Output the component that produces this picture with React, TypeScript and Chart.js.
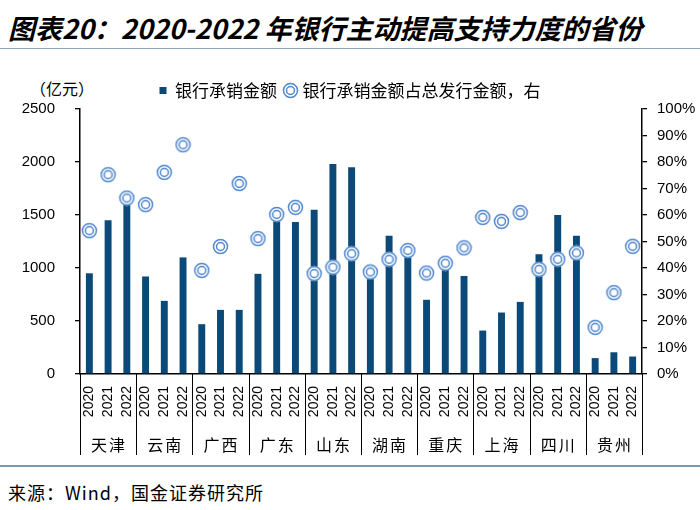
import { useEffect, useRef } from 'react';
import { Chart, registerables } from 'chart.js';

Chart.register(...registerables);

const TITLE = '图表20：2020-2022 年银行主动提高支持力度的省份';
const SOURCE = '来源：Wind，国金证券研究所';
const UNIT = '（亿元）';
const YEARS = ['2020', '2021', '2022'];
const PROVINCES = ['天津', '云南', '广西', '广东', '山东', '湖南', '重庆', '上海', '四川', '贵州'];
const SERIES_BAR = '银行承销金额';
const SERIES_PCT = '银行承销金额占总发行金额，右';
// 银行承销金额（亿元）, by province then year
const AMOUNTS = [
  950, 1450, 1600,
  920, 690, 1100,
  470, 605, 605,
  945, 1490, 1435,
  1550, 1980, 1950,
  940, 1305, 1160,
  700, 1010, 925,
  410, 580, 680,
  1130, 1500, 1305,
  150, 205, 165,
];
// 占总发行金额（%）
const SHARES = [
  54.1, 75.2, 66.4,
  63.9, 76.1, 86.5,
  39.1, 48.1, 71.9,
  51.1, 60.2, 62.9,
  37.9, 40.3, 45.4,
  38.5, 43.3, 46.6,
  38.1, 41.8, 47.6,
  59.1, 57.6, 60.9,
  39.5, 43.3, 45.7,
  17.6, 30.7, 48.2,
];
const LEFT_MAX = 2500;
const LEFT_STEP = 500;
const RIGHT_MAX = 100;
const RIGHT_STEP = 10;

const BAR_COLOR = '#0b4a78';
const RING_COLOR = '#4f86cc';

function makeRing(): HTMLCanvasElement {
  const c = document.createElement('canvas');
  c.width = 17;
  c.height = 17;
  const g = c.getContext('2d')!;
  g.fillStyle = '#ffffff';
  g.beginPath();
  g.arc(8.5, 8.5, 7.8, 0, Math.PI * 2);
  g.fill();
  g.strokeStyle = RING_COLOR;
  g.lineWidth = 1.5;
  g.beginPath();
  g.arc(8.5, 8.5, 7, 0, Math.PI * 2);
  g.stroke();
  g.beginPath();
  g.arc(8.5, 8.5, 4, 0, Math.PI * 2);
  g.stroke();
  return c;
}

const groupPlugin = {
  id: 'groupPlugin',
  afterDraw(chart: any) {
    const x = chart.scales.x;
    const area = chart.chartArea;
    const ctx = chart.ctx as CanvasRenderingContext2D;
    const step = x.getPixelForValue(1) - x.getPixelForValue(0);
    const n = YEARS.length;
    ctx.save();
    ctx.strokeStyle = '#000';
    ctx.lineWidth = 1;
    for (let g = 0; g <= PROVINCES.length; g++) {
      const px = Math.round(x.getPixelForValue(g * n) - step / 2) + 0.5;
      ctx.beginPath();
      ctx.moveTo(px, area.bottom);
      ctx.lineTo(px, area.bottom + 81);
      ctx.stroke();
    }
    ctx.fillStyle = '#000';
    ctx.font = '16px "Noto Sans CJK SC"';
    ctx.textAlign = 'center';
    ctx.textBaseline = 'middle';
    (ctx as any).letterSpacing = '2px';
    PROVINCES.forEach((p, g) => {
      const cx = x.getPixelForValue(g * n + (n - 1) / 2);
      ctx.fillText(p, cx + 1, area.bottom + 71);
    });
    ctx.restore();
  },
};

export default function App() {
  const ref = useRef<HTMLCanvasElement>(null);

  useEffect(() => {
    if (!ref.current) return;
    const ring = makeRing();
    const labels = PROVINCES.flatMap(() => YEARS);
    const tickFont = { family: '"Liberation Sans", Arial', size: 15 };
    const chart = new Chart(ref.current, {
      type: 'bar',
      data: {
        labels,
        datasets: [
          {
            type: 'bar',
            label: SERIES_BAR,
            data: AMOUNTS,
            backgroundColor: BAR_COLOR,
            borderWidth: 0,
            barPercentage: 0.37,
            categoryPercentage: 1,
            yAxisID: 'y',
            order: 1,
            pointStyle: 'rect',
          } as any,
          {
            type: 'line',
            label: SERIES_PCT,
            data: SHARES,
            yAxisID: 'y1',
            showLine: false,
            pointStyle: ring,
            pointRadius: 8,
            backgroundColor: '#fff',
            borderColor: RING_COLOR,
            order: 0,
          } as any,
        ],
      },
      options: {
        animation: false,
        responsive: false,
        layout: { padding: 0 },
        plugins: {
          tooltip: { enabled: false },
          legend: {
            position: 'top',
            align: 'center',
            labels: {
              usePointStyle: true,
              boxWidth: 7,
              boxHeight: 7,
              padding: 10,
              color: '#000',
              font: { family: '"Noto Sans CJK SC"', size: 17 },
              sort: (a: any, b: any) => a.datasetIndex - b.datasetIndex,
            },
          },
        },
        scales: {
          x: {
            type: 'category',
            offset: true,
            grid: { drawOnChartArea: false, drawTicks: false },
            border: { display: true, color: '#000', width: 1.5 },
            ticks: {
              autoSkip: false,
              maxRotation: 90,
              minRotation: 90,
              padding: 12,
              color: '#000',
              font: { family: '"Liberation Sans", Arial', size: 14 },
            },
            afterFit: (s: any) => {
              s.height = 86;
            },
          },
          y: {
            position: 'left',
            min: 0,
            max: LEFT_MAX,
            ticks: {
              stepSize: LEFT_STEP,
              padding: 20,
              color: '#000',
              font: tickFont,
              callback: (v: any) => String(v),
            },
            grid: { drawOnChartArea: false, drawTicks: true, tickLength: 5, color: '#000', lineWidth: 1.3 },
            border: { display: true, color: '#000', width: 1.5 },
            afterFit: (s: any) => {
              s.width = 80;
            },
          },
          y1: {
            position: 'right',
            min: 0,
            max: RIGHT_MAX,
            ticks: {
              stepSize: RIGHT_STEP,
              padding: 10,
              color: '#000',
              font: tickFont,
              callback: (v: any) => `${v}%`,
            },
            grid: { drawOnChartArea: false, drawTicks: true, tickLength: 5, color: '#000', lineWidth: 1.3 },
            border: { display: true, color: '#000', width: 1.5 },
            afterFit: (s: any) => {
              s.width = 58;
            },
          },
        },
      } as any,
      plugins: [groupPlugin],
    });
    return () => chart.destroy();
  }, []);

  return (
    <div
      style={{
        position: 'fixed',
        left: 0,
        top: 0,
        width: 700,
        height: 510,
        background: '#fff',
        overflow: 'hidden',
        fontFamily: '"Noto Sans CJK SC", sans-serif',
        color: '#000',
      }}
    >
      <div
        style={{
          position: 'absolute',
          left: 8,
          top: 11,
          fontSize: 27,
          lineHeight: '34px',
          fontWeight: 'bold',
          fontStyle: 'italic',
          whiteSpace: 'nowrap',
        }}
      >
        {TITLE}
      </div>
      <div style={{ position: 'absolute', left: 0, top: 48, width: 700, height: 1, background: '#8ca5b8' }} />
      <div
        style={{
          position: 'absolute',
          left: 30,
          top: 77,
          fontSize: 16,
          lineHeight: '22px',
          whiteSpace: 'nowrap',
        }}
      >
        {UNIT}
      </div>
      <canvas
        ref={ref}
        width={700}
        height={388}
        style={{ position: 'absolute', left: 0, top: 72, width: 700, height: 388 }}
      />
      <div style={{ position: 'absolute', left: 0, top: 465, width: 700, height: 2, background: '#7b98ad' }} />
      <div
        style={{
          position: 'absolute',
          left: 8,
          top: 479,
          fontSize: 18,
          lineHeight: '26px',
          whiteSpace: 'nowrap',
          letterSpacing: 1,
        }}
      >
        {SOURCE}
      </div>
    </div>
  );
}
